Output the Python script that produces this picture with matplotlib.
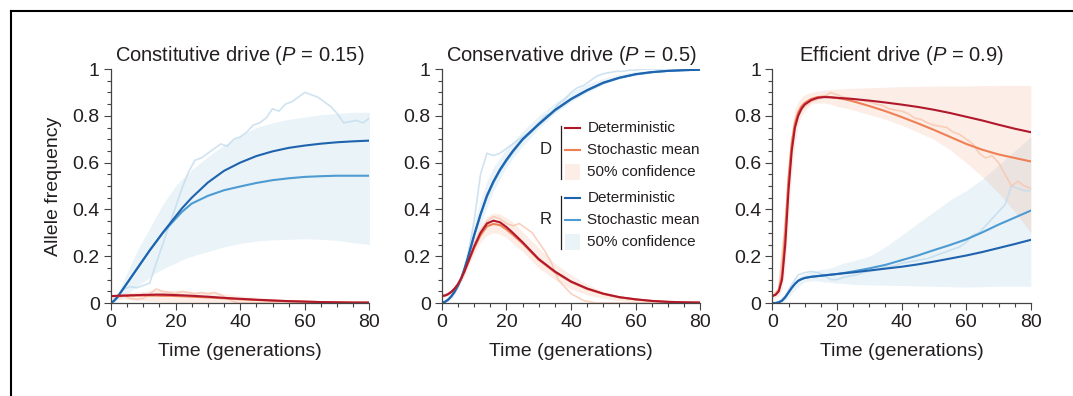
import matplotlib
matplotlib.use('Agg')
import matplotlib.pyplot as plt
from matplotlib.lines import Line2D
from matplotlib.patches import Rectangle
from matplotlib.ticker import MultipleLocator
import numpy as np

plt.rcParams['font.family'] = ['Liberation Sans', 'DejaVu Sans']
plt.rcParams['mathtext.fontset'] = 'custom'
plt.rcParams['mathtext.rm'] = 'Liberation Sans'
plt.rcParams['mathtext.it'] = 'Liberation Sans:italic'

# time grid for the smooth curves (generations)
t = [0, 1, 2, 3, 4, 5, 6, 7, 8, 9, 10, 12, 14, 16, 18, 20, 22, 25, 30, 35, 40, 45, 50, 55, 60, 65, 70, 75, 80]
# time grid for the single stochastic runs
t_run = list(range(0, 81, 2))

titles = ['Constitutive drive ($\\mathit{P}$ = 0.15)',
          'Conservative drive ($\\mathit{P}$ = 0.5)',
          'Efficient drive ($\\mathit{P}$ = 0.9)']

# ---- constitutive drive, P = 0.15 ----
c_r_det = [0.0, 0.01, 0.025, 0.045, 0.065, 0.085, 0.105, 0.125, 0.145, 0.165, 0.185, 0.225, 0.262, 0.3, 0.335, 0.37, 0.405, 0.45, 0.515, 0.565, 0.6, 0.628, 0.648, 0.663, 0.673, 0.681, 0.687, 0.691, 0.694]
c_r_mean = [0.0, 0.01, 0.025, 0.045, 0.065, 0.085, 0.105, 0.125, 0.145, 0.165, 0.185, 0.225, 0.262, 0.298, 0.33, 0.36, 0.39, 0.425, 0.458, 0.482, 0.498, 0.513, 0.525, 0.533, 0.539, 0.542, 0.544, 0.544, 0.544]
c_r_lo = [0.0, 0.0, 0.01, 0.02, 0.03, 0.04, 0.05, 0.06, 0.07, 0.08, 0.09, 0.11, 0.13, 0.145, 0.16, 0.17, 0.185, 0.2, 0.22, 0.24, 0.255, 0.265, 0.27, 0.272, 0.275, 0.272, 0.268, 0.258, 0.25]
c_r_hi = [0.0, 0.02, 0.04, 0.07, 0.1, 0.13, 0.16, 0.19, 0.22, 0.245, 0.27, 0.32, 0.37, 0.42, 0.46, 0.5, 0.53, 0.57, 0.625, 0.675, 0.715, 0.75, 0.77, 0.785, 0.795, 0.805, 0.81, 0.815, 0.815]
c_r_run = [0.0, 0.03, 0.06, 0.07, 0.065, 0.075, 0.085, 0.17, 0.25, 0.33, 0.41, 0.49, 0.56, 0.61, 0.62, 0.64, 0.66, 0.68, 0.67, 0.7, 0.71, 0.73, 0.76, 0.77, 0.79, 0.83, 0.82, 0.85, 0.86, 0.88, 0.9, 0.89, 0.88, 0.86, 0.84, 0.81, 0.77, 0.775, 0.78, 0.77, 0.79]
c_d_det = [0.03, 0.03, 0.031, 0.031, 0.032, 0.032, 0.033, 0.033, 0.034, 0.034, 0.035, 0.035, 0.036, 0.036, 0.035, 0.034, 0.033, 0.031, 0.027, 0.022, 0.018, 0.014, 0.011, 0.008, 0.006, 0.004, 0.003, 0.002, 0.002]
c_d_mean = [0.03, 0.03, 0.03, 0.031, 0.031, 0.031, 0.032, 0.032, 0.032, 0.032, 0.032, 0.032, 0.032, 0.031, 0.031, 0.03, 0.029, 0.027, 0.024, 0.02, 0.016, 0.013, 0.01, 0.008, 0.006, 0.004, 0.003, 0.002, 0.002]
c_d_lo = [0.02, 0.019, 0.018, 0.017, 0.016, 0.015, 0.014, 0.013, 0.012, 0.011, 0.01, 0.008, 0.006, 0.004, 0.002, 0.0, 0.0, 0.0, 0.0, 0.0, 0.0, 0.0, 0.0, 0.0, 0.0, 0.0, 0.0, 0.0, 0.0]
c_d_hi = [0.035, 0.037, 0.039, 0.041, 0.043, 0.045, 0.046, 0.047, 0.048, 0.049, 0.05, 0.052, 0.054, 0.055, 0.055, 0.055, 0.053, 0.05, 0.045, 0.04, 0.03, 0.025, 0.018, 0.012, 0.008, 0.006, 0.004, 0.003, 0.002]
c_d_run = [0.03, 0.025, 0.03, 0.02, 0.015, 0.02, 0.04, 0.06, 0.05, 0.045, 0.04, 0.05, 0.045, 0.04, 0.045, 0.04, 0.045, 0.035, 0.02, 0.005, 0.0, 0.0, 0.0, 0.0, 0.0, 0.0, 0.0, 0.0, 0.0, 0.0, 0.0, 0.0, 0.0, 0.0, 0.0, 0.0, 0.0, 0.0, 0.0, 0.0, 0.0]

# ---- conservative drive, P = 0.5 ----
s_r_det = [0.0, 0.005, 0.015, 0.03, 0.05, 0.075, 0.105, 0.145, 0.19, 0.24, 0.29, 0.38, 0.46, 0.52, 0.57, 0.612, 0.65, 0.7, 0.765, 0.825, 0.872, 0.91, 0.942, 0.963, 0.978, 0.987, 0.992, 0.995, 0.997]
s_r_mean = [0.0, 0.005, 0.014, 0.028, 0.048, 0.073, 0.103, 0.142, 0.186, 0.236, 0.286, 0.376, 0.455, 0.516, 0.566, 0.608, 0.646, 0.697, 0.762, 0.822, 0.87, 0.908, 0.94, 0.962, 0.977, 0.986, 0.992, 0.995, 0.997]
s_r_lo = [0.0, 0.003, 0.01, 0.02, 0.04, 0.06, 0.09, 0.12, 0.16, 0.2, 0.25, 0.33, 0.41, 0.48, 0.53, 0.58, 0.62, 0.67, 0.745, 0.81, 0.86, 0.9, 0.935, 0.958, 0.974, 0.984, 0.99, 0.994, 0.996]
s_r_hi = [0.0, 0.008, 0.02, 0.04, 0.06, 0.09, 0.13, 0.18, 0.23, 0.29, 0.34, 0.44, 0.52, 0.58, 0.62, 0.66, 0.69, 0.735, 0.8, 0.855, 0.9, 0.935, 0.96, 0.978, 0.99, 0.995, 0.998, 1.0, 1.0]
s_r_run = [0.0, 0.01, 0.04, 0.1, 0.2, 0.35, 0.55, 0.64, 0.63, 0.64, 0.66, 0.68, 0.7, 0.72, 0.74, 0.77, 0.8, 0.81, 0.85, 0.87, 0.9, 0.92, 0.93, 0.95, 0.97, 0.98, 0.985, 0.99, 0.99, 0.995, 0.995, 1.0, 1.0, 1.0, 1.0, 1.0, 1.0, 1.0, 1.0, 1.0, 1.0]
s_d_det = [0.03, 0.032, 0.038, 0.048, 0.062, 0.08, 0.105, 0.135, 0.17, 0.205, 0.24, 0.3, 0.34, 0.352, 0.345, 0.325, 0.3, 0.26, 0.188, 0.135, 0.092, 0.062, 0.04, 0.025, 0.016, 0.009, 0.005, 0.003, 0.002]
s_d_mean = [0.03, 0.032, 0.038, 0.048, 0.062, 0.08, 0.104, 0.133, 0.167, 0.2, 0.234, 0.29, 0.328, 0.338, 0.333, 0.315, 0.292, 0.255, 0.185, 0.132, 0.09, 0.06, 0.039, 0.024, 0.015, 0.009, 0.005, 0.003, 0.002]
s_d_lo = [0.025, 0.027, 0.032, 0.04, 0.053, 0.07, 0.09, 0.115, 0.15, 0.18, 0.21, 0.26, 0.29, 0.3, 0.295, 0.28, 0.255, 0.22, 0.15, 0.1, 0.06, 0.035, 0.02, 0.01, 0.005, 0.003, 0.001, 0.0, 0.0]
s_d_hi = [0.035, 0.037, 0.044, 0.055, 0.07, 0.09, 0.12, 0.155, 0.2, 0.235, 0.27, 0.33, 0.37, 0.385, 0.38, 0.365, 0.345, 0.305, 0.235, 0.17, 0.12, 0.08, 0.05, 0.032, 0.02, 0.012, 0.007, 0.004, 0.003]
s_d_run = [0.03, 0.04, 0.06, 0.1, 0.17, 0.25, 0.31, 0.35, 0.37, 0.36, 0.34, 0.33, 0.34, 0.32, 0.3, 0.26, 0.22, 0.17, 0.1, 0.07, 0.04, 0.025, 0.01, 0.005, 0.0, 0.0, 0.0, 0.0, 0.0, 0.0, 0.0, 0.0, 0.0, 0.0, 0.0, 0.0, 0.0, 0.0, 0.0, 0.0, 0.0]

# ---- efficient drive, P = 0.9 ----
e_r_det = [0.0, 0.0, 0.003, 0.01, 0.025, 0.045, 0.065, 0.082, 0.095, 0.102, 0.107, 0.112, 0.115, 0.118, 0.121, 0.124, 0.127, 0.131, 0.139, 0.147, 0.155, 0.165, 0.177, 0.19, 0.203, 0.218, 0.235, 0.252, 0.27]
e_r_mean = [0.0, 0.0, 0.003, 0.01, 0.025, 0.045, 0.065, 0.082, 0.095, 0.102, 0.107, 0.112, 0.115, 0.118, 0.121, 0.124, 0.128, 0.135, 0.148, 0.163, 0.183, 0.203, 0.226, 0.248, 0.272, 0.302, 0.335, 0.365, 0.395]
e_r_lo = [0.0, 0.0, 0.0, 0.005, 0.01, 0.025, 0.04, 0.055, 0.07, 0.08, 0.09, 0.095, 0.095, 0.09, 0.088, 0.085, 0.083, 0.08, 0.078, 0.076, 0.075, 0.073, 0.072, 0.07, 0.068, 0.07, 0.072, 0.072, 0.072]
e_r_hi = [0.005, 0.007, 0.01, 0.02, 0.04, 0.06, 0.08, 0.095, 0.11, 0.12, 0.125, 0.135, 0.14, 0.145, 0.15, 0.16, 0.17, 0.18, 0.2, 0.24, 0.29, 0.34, 0.39, 0.44, 0.48, 0.53, 0.59, 0.65, 0.71]
e_r_run = [0.0, 0.003, 0.03, 0.08, 0.12, 0.13, 0.135, 0.13, 0.12, 0.1, 0.1, 0.11, 0.115, 0.12, 0.13, 0.135, 0.14, 0.15, 0.155, 0.16, 0.17, 0.175, 0.18, 0.185, 0.19, 0.2, 0.21, 0.22, 0.23, 0.24, 0.26, 0.29, 0.3, 0.33, 0.36, 0.39, 0.42, 0.5, 0.49, 0.48, 0.48]
e_d_det = [0.03, 0.035, 0.05, 0.1, 0.25, 0.48, 0.65, 0.75, 0.8, 0.83, 0.848, 0.867, 0.877, 0.88, 0.879, 0.877, 0.875, 0.872, 0.865, 0.857, 0.848, 0.838, 0.826, 0.812, 0.796, 0.78, 0.762, 0.745, 0.73]
e_d_mean = [0.03, 0.037, 0.055, 0.12, 0.3, 0.53, 0.68, 0.77, 0.815, 0.84, 0.855, 0.872, 0.88, 0.882, 0.88, 0.876, 0.872, 0.862, 0.842, 0.82, 0.795, 0.768, 0.74, 0.71, 0.68, 0.655, 0.635, 0.62, 0.605]
e_d_lo = [0.02, 0.025, 0.03, 0.06, 0.15, 0.35, 0.55, 0.68, 0.76, 0.8, 0.82, 0.85, 0.855, 0.855, 0.85, 0.84, 0.835, 0.825, 0.805, 0.785, 0.76, 0.73, 0.7, 0.655, 0.6, 0.54, 0.47, 0.39, 0.3]
e_d_hi = [0.04, 0.05, 0.08, 0.18, 0.4, 0.6, 0.75, 0.83, 0.86, 0.88, 0.89, 0.9, 0.905, 0.91, 0.912, 0.915, 0.916, 0.918, 0.92, 0.922, 0.925, 0.926, 0.927, 0.928, 0.928, 0.929, 0.93, 0.93, 0.93]
e_d_run = [0.03, 0.06, 0.35, 0.7, 0.8, 0.84, 0.86, 0.87, 0.88, 0.9, 0.89, 0.88, 0.875, 0.87, 0.865, 0.86, 0.85, 0.845, 0.83, 0.825, 0.82, 0.81, 0.79, 0.785, 0.77, 0.76, 0.755, 0.75, 0.73, 0.72, 0.7, 0.68, 0.64, 0.62, 0.63, 0.6, 0.55, 0.5, 0.52, 0.5, 0.49]

panels = [
    (c_r_det, c_r_mean, c_r_lo, c_r_hi, c_r_run, c_d_det, c_d_mean, c_d_lo, c_d_hi, c_d_run),
    (s_r_det, s_r_mean, s_r_lo, s_r_hi, s_r_run, s_d_det, s_d_mean, s_d_lo, s_d_hi, s_d_run),
    (e_r_det, e_r_mean, e_r_lo, e_r_hi, e_r_run, e_d_det, e_d_mean, e_d_lo, e_d_hi, e_d_run),
]

# colours
d_det_c = '#b2182b'
d_mean_c = '#ef8055'
d_band_c = '#f4a582'
d_run_c = '#f8c6ae'
r_det_c = '#1f63ae'
r_mean_c = '#4d9bd2'
r_band_c = '#92c5de'
r_run_c = '#c3dcee'
text_c = '#231f20'
axis_c = '#444444'

fig = plt.figure(figsize=(10.73, 3.96), dpi=100)
lefts = [0.1034, 0.4117, 0.7198]

for i, (rd, rm, rlo, rhi, rrun, dd, dm, dlo, dhi, drun) in enumerate(panels):
    ax = fig.add_axes([lefts[i], 0.2348, 0.2409, 0.5909])
    ax.fill_between(t, rlo, rhi, color=r_band_c, alpha=0.2, lw=0)
    ax.fill_between(t, dlo, dhi, color=d_band_c, alpha=0.2, lw=0)
    ax.plot(t_run, rrun, color=r_run_c, lw=1.2, alpha=0.8)
    ax.plot(t_run, drun, color=d_run_c, lw=1.2, alpha=0.8)
    ax.plot(t, rm, color=r_mean_c, lw=1.5)
    ax.plot(t, rd, color=r_det_c, lw=1.5)
    ax.plot(t, dm, color=d_mean_c, lw=1.5)
    ax.plot(t, dd, color=d_det_c, lw=1.5)

    ax.set_xlim(0, 80)
    ax.set_ylim(0, 1)
    ax.xaxis.set_major_locator(MultipleLocator(20))
    ax.xaxis.set_minor_locator(MultipleLocator(5))
    ax.yaxis.set_minor_locator(MultipleLocator(0.05))
    ax.set_yticks([0, 0.2, 0.4, 0.6, 0.8, 1.0])
    ax.set_yticklabels(['0', '0.2', '0.4', '0.6', '0.8', '1'])
    for s in ['top', 'right']:
        ax.spines[s].set_visible(False)
    for s in ['left', 'bottom']:
        ax.spines[s].set_color(axis_c)
        ax.spines[s].set_linewidth(0.9)
    ax.tick_params(which='major', length=5, width=0.8, color=axis_c, labelsize=14,
                   labelcolor=text_c, pad=3)
    ax.tick_params(which='minor', length=3, width=0.8, color=axis_c)
    ax.set_title(titles[i], fontsize=14.5, color=text_c, pad=6)
    ax.set_xlabel('Time (generations)', fontsize=14, color=text_c)
    ax.xaxis.set_label_coords(0.5, -0.17)
    if i == 0:
        ax.set_ylabel('Allele frequency', fontsize=14, color=text_c)
        ax.yaxis.set_label_coords(-0.19, 0.5)

    if i == 1:
        # hand-made legend, grouped by allele
        groups = [('D', [0.748, 0.654, 0.56], d_det_c, d_mean_c, d_band_c),
                  ('R', [0.449, 0.355, 0.261], r_det_c, r_mean_c, r_band_c)]
        for name, ys, c1, c2, cb in groups:
            ax.text(0.40, (ys[0] + ys[2]) / 2, name, transform=ax.transAxes,
                    fontsize=12, color=text_c, ha='center', va='center')
            ax.add_line(Line2D([0.463, 0.463], [ys[0] + 0.01, ys[2] - 0.03],
                               transform=ax.transAxes, color=text_c, lw=0.9))
            ax.add_line(Line2D([0.478, 0.533], [ys[0], ys[0]], transform=ax.transAxes,
                               color=c1, lw=1.5))
            ax.add_line(Line2D([0.478, 0.533], [ys[1], ys[1]], transform=ax.transAxes,
                               color=c2, lw=1.5))
            ax.add_patch(Rectangle((0.478, ys[2] - 0.035), 0.055, 0.07,
                                   transform=ax.transAxes, color=cb, alpha=0.2, lw=0))
            for y, lab in zip(ys, ['Deterministic', 'Stochastic mean', '50% confidence']):
                ax.text(0.563, y, lab, transform=ax.transAxes, fontsize=11,
                        color=text_c, va='center', ha='left')

# partial frame round the figure
fig.add_artist(Line2D([0.0103, 0.0103], [0.0, 0.9722], color='black', lw=1.5))
fig.add_artist(Line2D([0.0103, 1.0], [0.9722, 0.9722], color='black', lw=1.5))

fig.savefig('out.png', dpi=100)
